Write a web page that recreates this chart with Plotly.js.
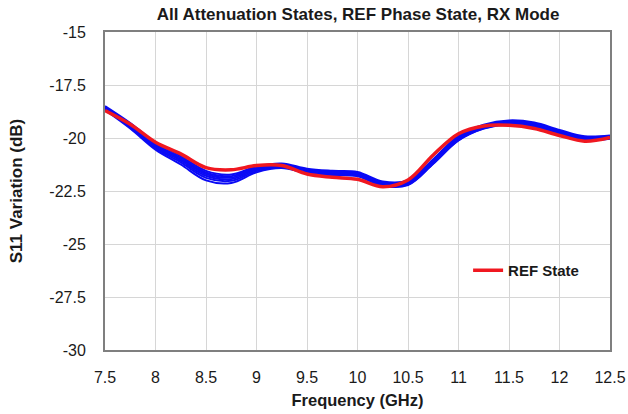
<!DOCTYPE html>
<html>
<head>
<meta charset="utf-8">
<script src="https://cdn.plot.ly/plotly-3.0.1.min.js"></script>
<style>html,body{margin:0;padding:0;background:#fff;}#chart{width:628px;height:414px;}</style>
</head>
<body>
<div id="chart"></div>
<script>
// Frequency points (GHz)
const freq = [7.5, 7.75, 8, 8.25, 8.5, 8.75, 9, 9.25, 9.5, 9.75, 10, 10.25, 10.5, 10.75, 11, 11.25, 11.5, 11.75, 12, 12.25, 12.5];

// REF phase state, reference attenuation state (dB)
const refState = [-18.7, -19.35, -20.2, -20.75, -21.4, -21.5, -21.3, -21.3, -21.7, -21.85, -21.95, -22.3, -21.98, -20.8, -19.8, -19.43, -19.4, -19.55, -19.88, -20.15, -19.97];

// Remaining attenuation states (dB)
const att1 = [-18.5, -19.3, -20.22, -20.85, -21.55, -21.72, -21.35, -21.2, -21.45, -21.55, -21.6, -22.05, -22.0, -21.0, -19.9, -19.37, -19.17, -19.27, -19.62, -19.92, -19.88];
const att2 = [-18.55, -19.35, -20.3, -20.93, -21.63, -21.8, -21.4, -21.25, -21.5, -21.6, -21.65, -22.1, -22.05, -21.05, -19.95, -19.41, -19.21, -19.31, -19.67, -19.96, -19.92];
const att3 = [-18.6, -19.4, -20.35, -21.0, -21.7, -21.87, -21.45, -21.3, -21.55, -21.65, -21.7, -22.15, -22.1, -21.1, -20.0, -19.45, -19.25, -19.35, -19.72, -20.0, -19.95];
const att4 = [-18.63, -19.45, -20.42, -21.07, -21.78, -21.94, -21.5, -21.34, -21.6, -21.7, -21.75, -22.2, -22.15, -21.15, -20.05, -19.5, -19.29, -19.39, -19.77, -20.04, -19.98];
const att5 = [-18.66, -19.5, -20.48, -21.15, -21.88, -22.02, -21.56, -21.38, -21.64, -21.74, -21.78, -22.24, -22.2, -21.2, -20.1, -19.54, -19.33, -19.43, -19.81, -20.08, -20.01];
const att6 = [-18.68, -19.55, -20.55, -21.25, -22.0, -22.12, -21.62, -21.42, -21.66, -21.76, -21.8, -22.26, -22.22, -21.22, -20.12, -19.56, -19.35, -19.45, -19.83, -20.1, -20.03];
const attStates = [att1, att2, att3, att4, att5, att6];

const xTicks = [7.5, 8, 8.5, 9, 9.5, 10, 10.5, 11, 11.5, 12, 12.5];
const xTickText = ['7.5', '8', '8.5', '9', '9.5', '10', '10.5', '11', '11.5', '12', '12.5'];
const yTicks = [-30, -27.5, -25, -22.5, -20, -17.5, -15];
const yTickText = ['-30', '-27.5', '-25', '-22.5', '-20', '-17.5', '-15'];

const traces = attStates.map(s => ({
  x: freq, y: s, type: 'scatter', mode: 'lines',
  line: {color: '#0a0af5', width: 2, shape: 'spline', smoothing: 1},
  showlegend: false, hoverinfo: 'skip'
}));
traces.push({
  x: freq, y: refState, type: 'scatter', mode: 'lines', name: 'REF State',
  line: {color: '#f01820', width: 3.5, shape: 'spline', smoothing: 1}
});

const font = {family: 'Liberation Sans, Arial, sans-serif', color: '#1a1a1a'};

const layout = {
  width: 628, height: 414,
  margin: {l: 105, r: 18, t: 32, b: 64},
  paper_bgcolor: '#fff', plot_bgcolor: '#fff',
  font: Object.assign({size: 16}, font),
  title: {text: '<b>All Attenuation States, REF Phase State, RX Mode</b>',
          font: Object.assign({size: 17}, font),
          x: 358 / 628, xanchor: 'center', yref: 'container', y: 1 - 8 / 414, yanchor: 'top'},
  xaxis: {
    range: [7.5, 12.5], tickvals: xTicks, ticktext: xTickText,
    showgrid: true, gridcolor: '#d6d6d6', gridwidth: 1,
    showline: true, linecolor: '#7f7f7f', linewidth: 2, mirror: true,
    ticks: '', zeroline: false, ticklabelstandoff: 12,
    tickfont: Object.assign({size: 16}, font),
    title: {text: '<b>Frequency (GHz)</b>', font: Object.assign({size: 16.5}, font), standoff: 9}
  },
  yaxis: {
    range: [-30, -15], tickvals: yTicks, ticktext: yTickText,
    showgrid: true, gridcolor: '#d6d6d6', gridwidth: 1,
    showline: true, linecolor: '#7f7f7f', linewidth: 2, mirror: true,
    ticks: '', zeroline: false, ticklabelstandoff: 14,
    tickfont: Object.assign({size: 16}, font),
    title: {text: '<b>S11 Variation (dB)</b>', font: Object.assign({size: 17}, font), standoff: 22}
  },
  legend: {
    x: 0.719, y: 0.25, xanchor: 'left', yanchor: 'middle',
    bgcolor: 'rgba(255,255,255,0)', borderwidth: 0,
    font: Object.assign({size: 15}, font, {weight: 'bold'})
  },
  showlegend: true
};

Plotly.newPlot('chart', traces, layout, {displayModeBar: false, staticPlot: true});
</script>
</body>
</html>
